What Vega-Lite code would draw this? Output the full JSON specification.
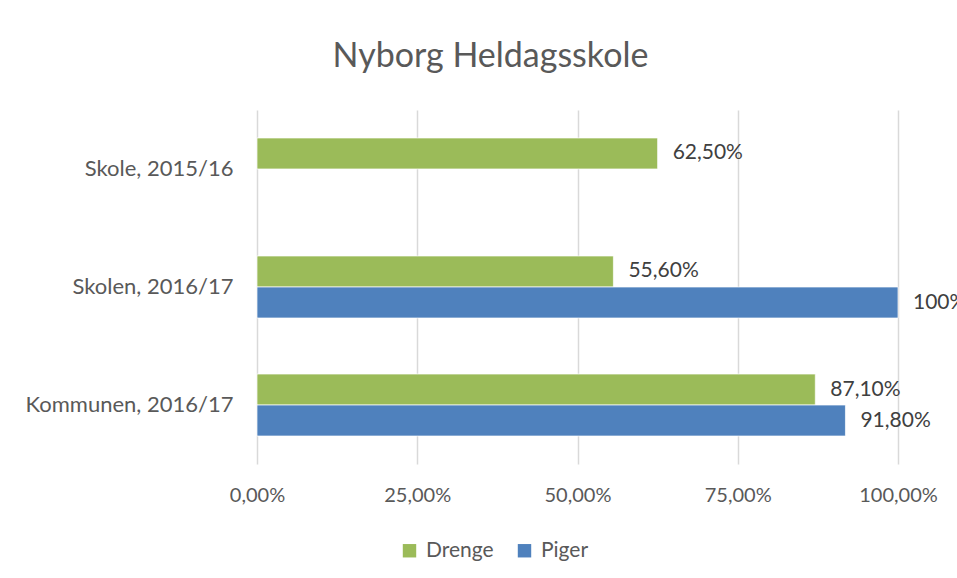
{
  "$schema": "https://vega.github.io/schema/vega-lite/v6.json",
  "autosize": {"type": "none"},
  "width": 641,
  "height": 354,
  "padding": {"left": 257, "top": 110, "right": 59, "bottom": 114},
  "background": "white",
  "title": {
    "text": "Nyborg Heldagsskole",
    "anchor": "middle",
    "dx": -87,
    "offset": 36,
    "fontSize": 34,
    "font": "Lato",
    "fontWeight": "normal",
    "color": "#595959"
  },
  "data": {
    "values": [
      {"kategori": "Skole, 2015/16", "serie": "Drenge", "andel": 0.625, "etiket": "62,50%"},
      {"kategori": "Skolen, 2016/17", "serie": "Drenge", "andel": 0.556, "etiket": "55,60%"},
      {"kategori": "Skolen, 2016/17", "serie": "Piger", "andel": 1.0, "etiket": "100%"},
      {"kategori": "Kommunen, 2016/17", "serie": "Drenge", "andel": 0.871, "etiket": "87,10%"},
      {"kategori": "Kommunen, 2016/17", "serie": "Piger", "andel": 0.918, "etiket": "91,80%"}
    ]
  },
  "encoding": {
    "y": {
      "field": "kategori",
      "type": "nominal",
      "sort": ["Skole, 2015/16", "Skolen, 2016/17", "Kommunen, 2016/17"],
      "scale": {"paddingInner": 0.4746, "paddingOuter": 0.237},
      "axis": {"title": null, "ticks": false, "domain": false, "labelPadding": 24, "labelLimit": 300, "labelFontSize": 22, "labelFont": "Lato", "labelColor": "#595959"}
    },
    "yOffset": {
      "field": "serie",
      "type": "nominal",
      "sort": ["Drenge", "Piger"],
      "scale": {"paddingInner": 0, "paddingOuter": 0}
    },
    "x": {
      "field": "andel",
      "type": "quantitative",
      "scale": {"domain": [0, 1], "nice": false},
      "axis": {
        "title": null,
        "values": [0, 0.25, 0.5, 0.75, 1],
        "format": ".2%",
        "ticks": false,
        "domain": false,
        "grid": true,
        "gridColor": "#D9D9D9",
        "gridWidth": 1.5,
        "labelFlush": false,
        "labelPadding": 21,
        "labelFontSize": 20,
        "labelFont": "Lato",
        "labelColor": "#595959"
      }
    }
  },
  "layer": [
    {
      "mark": {"type": "bar", "stroke": "white", "strokeWidth": 0.7},
      "encoding": {
        "color": {
          "field": "serie",
          "type": "nominal",
          "sort": ["Drenge", "Piger"],
          "scale": {"domain": ["Drenge", "Piger"], "range": ["#9BBB59", "#4F81BD"]},
          "legend": {
            "title": null,
            "orient": "none",
            "direction": "horizontal",
            "legendX": 142,
            "legendY": 430,
            "symbolType": "square",
            "symbolSize": 180,
            "symbolStrokeWidth": 0,
            "labelFontSize": 21,
            "labelFont": "Lato",
            "labelColor": "#595959",
            "columnPadding": 20,
            "labelOffset": 6
          }
        }
      }
    },
    {
      "mark": {"type": "text", "align": "left", "baseline": "middle", "dx": 15, "fontSize": 21, "font": "Lato", "color": "#404040"},
      "encoding": {"text": {"field": "etiket"}}
    }
  ],
  "config": {
    "view": {"stroke": null},
    "locale": {
      "number": {"decimal": ",", "thousands": ".", "grouping": [3], "currency": ["", " kr."]}
    }
  }
}
